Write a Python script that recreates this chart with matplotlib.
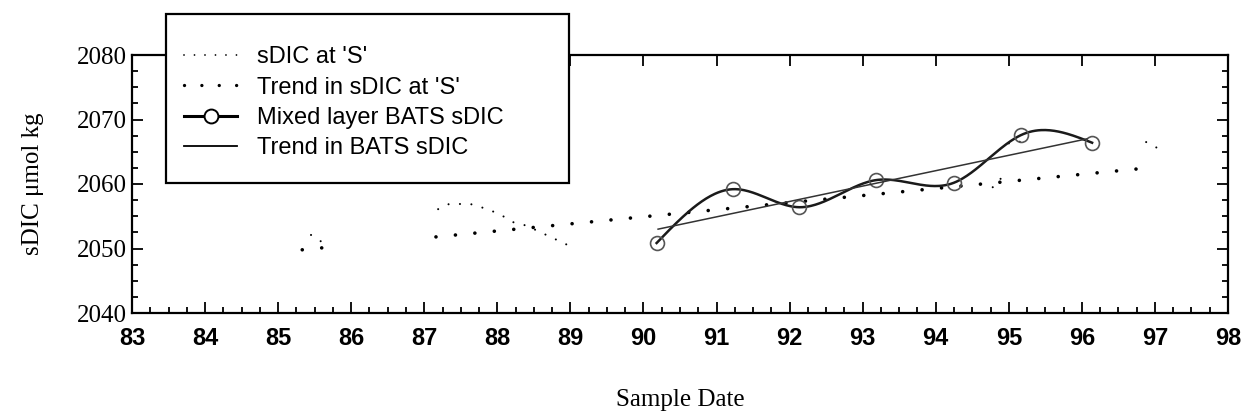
import numpy as np
import matplotlib
matplotlib.use("Agg")
import matplotlib.pyplot as plt
from matplotlib.lines import Line2D
from matplotlib.patches import Rectangle

# sDIC at station 'S' (short dotted pieces, NaN = gap)
s_x = [85.45, 85.6, np.nan,
       87.19, 87.34, 87.49, 87.63, 87.78, 87.93, 88.08, 88.21, 88.38, 88.52, 88.67, 88.82, 88.97, np.nan,
       94.78, 94.92, np.nan,
       95.0, 95.1, 95.2, 95.3, np.nan,
       96.88, 97.03]
s_y = [2052.1, 2051.0, np.nan,
       2056.1, 2056.9, 2056.9, 2056.9, 2056.4, 2055.8, 2055.0, 2054.1, 2053.6, 2052.9, 2052.1, 2051.3, 2050.5, np.nan,
       2059.5, 2061.2, np.nan,
       2066.3, 2066.7, 2066.4, 2066.4, np.nan,
       2066.5, 2065.6]

# trend in sDIC at 'S'
st_x = [85.33, 85.6, np.nan, 87.16, 97.0]
st_y = [2049.8, 2050.1, np.nan, 2051.8, 2062.6]

# mixed layer BATS sDIC
bats_x = np.array([90.18, 91.23, 92.13, 93.18, 94.25, 95.17, 96.14])
bats_y = np.array([2050.85, 2059.2, 2056.4, 2060.6, 2060.2, 2067.6, 2066.4])

# trend in BATS sDIC
bt_x = [90.2, 96.07]
bt_y = [2053.0, 2067.0]

xticks = list(range(83, 99))
yticks = [2040, 2050, 2060, 2070, 2080]


def natural_spline(x, y, xs):
    # natural cubic spline, used only to draw the smoothed BATS line
    n = len(x)
    h = np.diff(x)
    A = np.zeros((n, n))
    r = np.zeros(n)
    A[0, 0] = A[-1, -1] = 1
    for i in range(1, n - 1):
        A[i, i - 1] = h[i - 1]
        A[i, i] = 2 * (h[i - 1] + h[i])
        A[i, i + 1] = h[i]
        r[i] = 6 * ((y[i + 1] - y[i]) / h[i] - (y[i] - y[i - 1]) / h[i - 1])
    m = np.linalg.solve(A, r)
    k = np.clip(np.searchsorted(x, xs) - 1, 0, n - 2)
    t = xs - x[k]
    hk = h[k]
    a = (m[k + 1] - m[k]) / (6 * hk)
    b = m[k] / 2
    c = (y[k + 1] - y[k]) / hk - hk * (2 * m[k] + m[k + 1]) / 6
    return y[k] + c * t + b * t ** 2 + a * t ** 3


W, H = 1245, 416
fig = plt.figure(figsize=(W / 100, H / 100), dpi=100)
ax = fig.add_axes([132 / W, 1 - 313 / H, 1096 / W, 258 / H])

small_dots = (0, (0.01, 5.5))
big_dots = (0, (0.01, 5.4))

ax.plot(s_x, s_y, color='black', lw=1.5, ls=small_dots, dash_capstyle='round')
ax.plot(st_x, st_y, color='black', lw=2.6, ls=big_dots, dash_capstyle='round')

xs = np.linspace(bats_x[0], bats_x[-1], 300)
ax.plot(xs, natural_spline(bats_x, bats_y, xs), color='#1a1a1a', lw=1.8)
ax.plot(bats_x, bats_y, ls='none', marker='o', ms=10, mfc='none', mec='#555555', mew=1.2)
ax.plot(bt_x, bt_y, color='#333333', lw=1.1)

ax.set_xlim(83, 98)
ax.set_ylim(2040, 2080)
ax.set_xticks(xticks)
ax.set_xticks(np.arange(83, 98.01, 0.25), minor=True)
ax.set_yticks(yticks)
ax.set_yticks(np.arange(2040, 2080.1, 2.5), minor=True)
ax.tick_params(which='both', direction='in', top=True, right=True, width=1.3, color='black')
ax.tick_params(which='major', length=8)
ax.tick_params(which='minor', length=4, top=False)
ax.tick_params(axis='x', pad=10)
for sp in ax.spines.values():
    sp.set_linewidth(1.6)

for lab in ax.get_xticklabels():
    lab.set_fontfamily('Liberation Sans')
    lab.set_fontweight('bold')
    lab.set_fontsize(17)
for lab in ax.get_yticklabels():
    lab.set_fontfamily('Liberation Serif')
    lab.set_fontsize(18)

ax.set_xlabel('Sample Date', family='Liberation Serif', fontsize=18, labelpad=28)
ax.set_ylabel('sDIC \u03bcmol kg', family='Liberation Serif', fontsize=18, labelpad=24)

# legend box drawn separately so it can sit over the top spine
box = Rectangle((166 / W, 1 - 183 / H), 403 / W, 169 / H, transform=fig.transFigure,
                facecolor='white', edgecolor='black', lw=1.6, zorder=4)
fig.add_artist(box)

handles = [
    Line2D([], [], color='black', lw=1.3, ls=(0, (0.01, 5.8)), dash_capstyle='round'),
    Line2D([], [], color='black', lw=2.4, ls=(0, (0.01, 5.2)), dash_capstyle='round'),
    Line2D([], [], color='black', lw=2.2, marker='o', ms=10, mfc='white', mec='black', mew=1.4),
    Line2D([], [], color='black', lw=1.3),
]
labels = ["sDIC at 'S'", "Trend in sDIC at 'S'", "Mixed layer BATS sDIC", "Trend in BATS sDIC"]
leg = fig.legend(handles, labels, loc='upper left', bbox_to_anchor=(184 / W, 1 - 46 / H),
                 borderaxespad=0, borderpad=0, frameon=False, numpoints=1,
                 handlelength=2.25, handletextpad=0.85, labelspacing=0.36,
                 prop={'family': 'Liberation Sans', 'size': 17})
leg.set_zorder(5)

fig.savefig('out.png', dpi=100)
